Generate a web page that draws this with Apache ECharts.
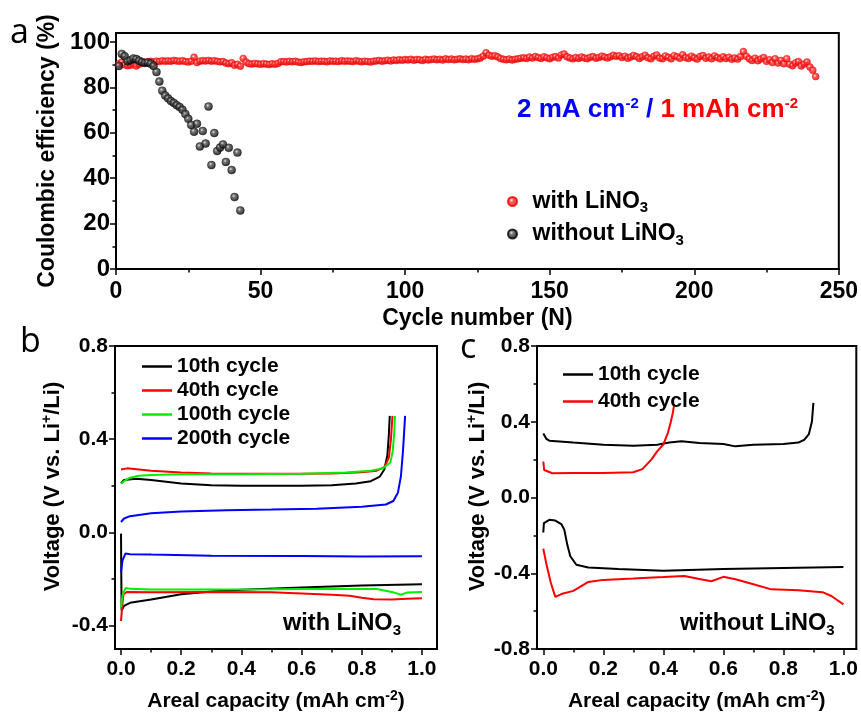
<!DOCTYPE html>
<html>
<head>
<meta charset="utf-8">
<script src="https://cdn.jsdelivr.net/npm/echarts@6/dist/echarts.min.js"></script>
<style>
  html, body { margin: 0; padding: 0; background: #fff; }
  #chart { width: 861px; height: 713px; }
</style>
</head>
<body>
<div id="chart"></div>
<script>
// ---- panel a: coulombic efficiency vs cycle number ----
const ceWith = [
  90.5, 91.2, 90.0, 89.6, 89.8, 90.4, 89.5, 90.2, 90.8, 91.0,
  91.3, 91.5, 91.2, 91.6, 91.4, 91.8, 91.5, 91.7, 91.6, 91.9,
  91.7, 91.5, 91.8, 91.4, 91.2, 91.6, 93.3, 91.0, 91.6, 91.8,
  91.7, 91.9, 91.6, 91.8, 91.5, 91.3, 91.4, 90.8, 90.5, 90.9,
  89.8, 90.2, 89.4, 92.8, 91.2, 90.5, 90.3, 90.6, 90.4, 90.2,
  90.5, 90.3, 90.1, 90.4, 90.2, 90.6, 91.3, 91.4, 91.2, 91.5,
  91.3, 91.5, 91.2, 91.0, 91.3, 91.4, 91.6, 91.5, 91.7, 91.4,
  91.6, 91.5, 91.3, 91.7, 91.5, 91.6, 91.4, 91.8, 91.5, 91.7,
  91.6, 91.4, 91.8, 91.5, 91.3, 91.6, 91.4, 91.2, 91.5, 91.7,
  91.9, 91.6, 91.8, 92.0, 91.7, 92.1, 91.9, 92.2, 92.0, 92.3,
  92.1, 92.4, 92.0, 92.3, 92.2, 91.9, 92.4, 92.1, 92.3, 92.5,
  92.2, 92.4, 92.1, 92.6, 92.3, 92.5, 92.2, 92.4, 92.6, 92.3,
  92.5, 92.2, 92.7, 92.4, 92.6, 93.0, 93.8, 95.3, 94.2, 93.8,
  94.0, 93.5, 92.8, 92.4, 92.2, 92.5, 92.1, 92.4, 92.6, 92.9,
  93.1, 92.8, 93.4, 93.0, 93.6, 93.2, 92.8, 93.5, 93.1, 92.7,
  93.3, 93.6, 93.0, 94.3, 94.8, 93.5, 93.0, 92.6, 93.2, 92.8,
  93.4, 93.0, 92.7, 93.3, 93.6, 92.9, 93.2, 93.8, 93.4, 93.0,
  93.5, 94.2, 93.7, 94.0, 93.2, 93.8, 92.9, 93.4, 94.1, 93.6,
  92.8, 93.5, 94.2, 93.1, 92.6, 93.7, 94.3, 93.0, 92.7, 93.9,
  93.3, 92.6, 94.0, 93.5, 92.9, 94.4, 93.2, 92.8, 93.8, 93.1,
  92.5, 93.6, 94.1, 92.9, 93.4, 92.7, 93.9, 93.2, 92.6, 93.5,
  92.8, 93.3, 92.4, 93.0, 92.5, 93.6, 95.8, 93.8, 92.6, 91.9,
  92.9, 91.8, 92.5, 93.2, 91.5, 92.2, 91.0, 92.6, 90.8, 91.9,
  90.5, 92.7, 90.2, 89.6, 90.8, 91.4, 89.5, 90.3, 91.2, 89.0,
  87.6, 84.8
];
const ceWithout = [
  89.5, 94.8, 93.8, 91.5, 92.0, 92.8, 92.5, 91.8, 91.2, 90.8,
  91.0, 90.5, 89.5, 86.8, 82.6, 78.6, 76.5, 75.2, 74.0, 73.2,
  72.2, 71.4, 70.2, 68.3, 66.2, 63.5, 60.5, 64.0, 54.0, 60.8,
  55.3, 71.6, 45.8, 59.9, 52.0, 53.5, 54.9, 47.2, 53.4, 43.6,
  31.7, 51.3, 25.8
];
const cycleTicks = [0, 50, 100, 150, 200, 250];
const cycleMinor = [25, 75, 125, 175, 225];
const ceTicks = [0, 20, 40, 60, 80, 100];
const ceMinor = [10, 30, 50, 70, 90];

// ---- panel b: voltage profiles with LiNO3 [capacity, voltage] ----
const b10Charge = [[0, 0.21], [0.01, 0.225], [0.05, 0.23], [0.1, 0.225], [0.2, 0.21], [0.3, 0.203], [0.4, 0.2], [0.5, 0.2], [0.6, 0.2], [0.7, 0.203], [0.78, 0.21], [0.83, 0.22], [0.86, 0.24], [0.875, 0.27], [0.885, 0.33], [0.89, 0.42], [0.893, 0.5]];
const b40Charge = [[0, 0.27], [0.02, 0.275], [0.1, 0.265], [0.2, 0.257], [0.3, 0.253], [0.5, 0.252], [0.7, 0.253], [0.8, 0.258], [0.85, 0.265], [0.875, 0.28], [0.89, 0.32], [0.897, 0.4], [0.902, 0.5]];
const b100Charge = [[0, 0.21], [0.01, 0.22], [0.03, 0.235], [0.06, 0.243], [0.1, 0.247], [0.2, 0.25], [0.4, 0.25], [0.6, 0.252], [0.75, 0.257], [0.83, 0.265], [0.87, 0.275], [0.895, 0.3], [0.903, 0.35], [0.908, 0.43], [0.91, 0.5]];
const b200Charge = [[0, 0.045], [0.01, 0.06], [0.03, 0.07], [0.1, 0.082], [0.2, 0.09], [0.35, 0.095], [0.5, 0.098], [0.65, 0.102], [0.8, 0.11], [0.88, 0.12], [0.905, 0.135], [0.92, 0.17], [0.93, 0.24], [0.937, 0.35], [0.944, 0.5]];
const b10Discharge = [[0, -0.005], [0.001, -0.2], [0.002, -0.335], [0.01, -0.315], [0.03, -0.302], [0.1, -0.288], [0.2, -0.265], [0.3, -0.253], [0.4, -0.246], [0.6, -0.236], [0.8, -0.228], [1.0, -0.222]];
const b40Discharge = [[0, -0.38], [0.003, -0.33], [0.008, -0.265], [0.02, -0.255], [0.1, -0.256], [0.3, -0.255], [0.5, -0.257], [0.6, -0.262], [0.7, -0.267], [0.76, -0.272], [0.8, -0.28], [0.84, -0.287], [0.9, -0.288], [0.95, -0.284], [1.0, -0.282]];
const b100Discharge = [[0, -0.32], [0.005, -0.27], [0.015, -0.238], [0.03, -0.242], [0.1, -0.245], [0.3, -0.245], [0.5, -0.244], [0.7, -0.242], [0.85, -0.243], [0.9, -0.255], [0.93, -0.267], [0.95, -0.258], [1.0, -0.255]];
const b200Discharge = [[0, -0.17], [0.005, -0.12], [0.015, -0.09], [0.03, -0.093], [0.1, -0.095], [0.3, -0.1], [0.6, -0.101], [0.8, -0.103], [1.0, -0.102]];

// ---- panel c: voltage profiles without LiNO3 ----
const c10Charge = [[0, 0.338], [0.01, 0.31], [0.02, 0.3], [0.1, 0.29], [0.2, 0.278], [0.3, 0.273], [0.38, 0.278], [0.42, 0.29], [0.46, 0.297], [0.52, 0.288], [0.6, 0.283], [0.64, 0.27], [0.7, 0.278], [0.8, 0.283], [0.85, 0.29], [0.87, 0.305], [0.885, 0.335], [0.895, 0.4], [0.9, 0.5]];
const c40Charge = [[0, 0.19], [0.003, 0.145], [0.03, 0.128], [0.1, 0.13], [0.2, 0.13], [0.3, 0.133], [0.33, 0.15], [0.36, 0.2], [0.38, 0.245], [0.4, 0.28], [0.415, 0.34], [0.425, 0.4], [0.432, 0.45], [0.436, 0.493]];
const c10Discharge = [[0, -0.185], [0.002, -0.135], [0.02, -0.118], [0.04, -0.122], [0.06, -0.14], [0.07, -0.17], [0.08, -0.25], [0.09, -0.31], [0.11, -0.355], [0.15, -0.37], [0.25, -0.378], [0.4, -0.387], [0.6, -0.378], [0.8, -0.372], [1.0, -0.367]];
const c40Discharge = [[0, -0.27], [0.01, -0.35], [0.025, -0.45], [0.04, -0.525], [0.06, -0.51], [0.1, -0.493], [0.15, -0.446], [0.2, -0.435], [0.3, -0.428], [0.4, -0.42], [0.47, -0.414], [0.52, -0.43], [0.56, -0.442], [0.6, -0.419], [0.64, -0.432], [0.7, -0.458], [0.76, -0.485], [0.85, -0.49], [0.93, -0.5], [0.96, -0.52], [1.0, -0.564]];

const capTicks = [0, 0.2, 0.4, 0.6, 0.8, 1.0];
const capMinor = [0.1, 0.3, 0.5, 0.7, 0.9];
const vTicksB = [-0.4, 0, 0.4, 0.8];
const vMinorB = [-0.2, 0.2, 0.6];
const vTicksC = [-0.8, -0.4, 0, 0.4, 0.8];
const vMinorC = [-0.6, -0.2, 0.2, 0.6];

const FONT = '"Liberation Sans", Arial, sans-serif';
const supStyle = {fontSize: 14, fontWeight: 'bold', fontFamily: FONT, color: '#000', padding: [0, 0, 11, 0]};
const subStyle = {fontSize: 15, fontWeight: 'bold', fontFamily: FONT, color: '#000', padding: [13, 0, 0, 0]};

// a value axis drawn as two layers: labelled major ticks and short minor ticks
function axisPair(gridIndex, pos, min, max, majors, minors, fmt, extra, labelSize, labelMargin) {
    const major = Object.assign({
        gridIndex, type: 'value', position: pos, min, max,
        axisLine: {show: true, onZero: false, lineStyle: {color: '#000', width: 2}},
        axisTick: {show: true, inside: false, length: 6, customValues: majors, lineStyle: {color: '#000', width: 1.5}},
        axisLabel: {customValues: majors, formatter: fmt, color: '#000', fontFamily: FONT, fontWeight: 'bold', fontSize: labelSize, margin: labelMargin},
        splitLine: {show: false},
        nameLocation: 'middle',
        nameTextStyle: {color: '#000', fontFamily: FONT, fontWeight: 'bold', fontSize: 21, rich: {sup: supStyle}}
    }, extra);
    const minor = {
        gridIndex, type: 'value', position: pos, min, max,
        axisLine: {show: false, onZero: false},
        axisTick: {show: true, inside: false, length: 3.5, customValues: minors, lineStyle: {color: '#000', width: 1.5}},
        axisLabel: {show: false},
        splitLine: {show: false}
    };
    return [major, minor];
}

const fmt1 = v => v.toFixed(1);
const fmt0 = v => String(Math.round(v));

const redBall = new echarts.graphic.RadialGradient(0.4, 0.38, 0.6, [
    {offset: 0, color: '#ffffff'}, {offset: 0.3, color: '#ff3a3a'}, {offset: 1, color: '#e60000'}
]);
const blackBall = new echarts.graphic.RadialGradient(0.4, 0.38, 0.6, [
    {offset: 0, color: '#e0e0e0'}, {offset: 0.3, color: '#555555'}, {offset: 1, color: '#000000'}
]);

const lineSeries = (name, data, color, ax) => ({
    name, type: 'line', data, xAxisIndex: ax, yAxisIndex: ax,
    showSymbol: false, smooth: false, color,
    lineStyle: {color, width: 2}
});

const chart = echarts.init(document.getElementById('chart'));

const legendText = {color: '#000', fontFamily: FONT, fontWeight: 'bold', fontSize: 21};
const titleA = {color: '#000', fontFamily: FONT, fontWeight: 'bold', fontSize: 23};
const yTitleShift = {padding: [0, 0, 0, 22]};

chart.setOption({
    animation: false,
    backgroundColor: '#fff',
    grid: [
        {left: 116, top: 33, width: 723, height: 236, show: true, borderColor: '#000', borderWidth: 2},
        {left: 115, top: 346, width: 322, height: 304, show: true, borderColor: '#000', borderWidth: 2},
        {left: 537, top: 346, width: 321, height: 304, show: true, borderColor: '#000', borderWidth: 2}
    ],
    xAxis: [
        ...axisPair(0, 'bottom', 0, 250, cycleTicks, cycleMinor, fmt0,
            {name: 'Cycle number (N)', nameGap: 38, nameTextStyle: titleA}, 23, 11),
        ...axisPair(1, 'bottom', -0.02, 1.05, capTicks, capMinor, fmt1,
            {name: 'Areal capacity (mAh cm{sup|-2})', nameGap: 40}, 21, 10),
        ...axisPair(2, 'bottom', -0.021, 1.043, capTicks, capMinor, fmt1,
            {name: 'Areal capacity (mAh cm{sup|-2})', nameGap: 40}, 21, 10)
    ],
    yAxis: [
        ...axisPair(0, 'left', 0, 104, ceTicks, ceMinor, fmt0,
            {name: 'Coulombic efficiency (%)', nameGap: 49, nameTextStyle: titleA}, 24, 6),
        ...axisPair(1, 'left', -0.5, 0.8, vTicksB, vMinorB, fmt1,
            {name: 'Voltage (V vs. Li{sup|+}/Li)', nameGap: 50,
             nameTextStyle: Object.assign({}, legendText, {fontSize: 22, rich: {sup: supStyle}}, yTitleShift)}, 21, 7),
        ...axisPair(2, 'left', -0.8, 0.8, vTicksC, vMinorC, fmt1,
            {name: 'Voltage (V vs. Li{sup|+}/Li)', nameGap: 47,
             nameTextStyle: Object.assign({}, legendText, {fontSize: 22, rich: {sup: supStyle}}, yTitleShift)}, 21, 7)
    ],
    legend: [
        {
            orient: 'vertical', left: 502, top: 185, itemWidth: 30, itemHeight: 9, itemGap: 7,
            icon: 'circle', data: ['with LiNO3', 'without LiNO3'],
            formatter: n => n.replace('LiNO3', 'LiNO{sub|3}'),
            textStyle: Object.assign({rich: {sub: subStyle}}, legendText, {fontSize: 23})
        },
        {
            orient: 'vertical', left: 137, top: 351, itemWidth: 30, itemHeight: 2.5, itemGap: 3,
            icon: 'rect', data: ['10th cycle', '40th cycle', '100th cycle', '200th cycle'],
            textStyle: legendText
        },
        {
            orient: 'vertical', left: 558, top: 359, itemWidth: 30, itemHeight: 2.5, itemGap: 6,
            icon: 'rect', data: ['10th cycle', '40th cycle'],
            textStyle: legendText
        }
    ],
    graphic: [
        {type: 'text', left: 10, top: 16, style: {text: 'a', fontSize: 34, fontFamily: '"Open Sans", sans-serif', fill: '#000'}},
        {type: 'text', left: 20, top: 325, style: {text: 'b', fontSize: 34, fontFamily: '"Open Sans", sans-serif', fill: '#000'}},
        {type: 'text', left: 460, top: 331, style: {text: 'c', fontSize: 34, fontFamily: '"Open Sans", sans-serif', fill: '#000'}},
        {
            type: 'text', left: 517, top: 96,
            style: {
                text: '{b|2 mA cm}{bs|-2}{b| / }{r|1 mAh cm}{rs|-2}',
                rich: {
                    b: {fontSize: 26, fontWeight: 'bold', fontFamily: FONT, fill: '#0000ff'},
                    bs: Object.assign({}, supStyle, {fontSize: 15, padding: [0, 0, 12, 0], fill: '#0000ff', color: '#0000ff'}),
                    r: {fontSize: 26, fontWeight: 'bold', fontFamily: FONT, fill: '#ff0000'},
                    rs: Object.assign({}, supStyle, {fontSize: 15, padding: [0, 0, 12, 0], fill: '#ff0000', color: '#ff0000'})
                }
            }
        },
        {
            type: 'text', left: 283, top: 612,
            style: {text: 'with LiNO{s|3}', fontSize: 23.5, fontWeight: 'bold', fontFamily: FONT, fill: '#000', rich: {s: subStyle}}
        },
        {
            type: 'text', left: 680, top: 612,
            style: {text: 'without LiNO{s|3}', fontSize: 23.5, fontWeight: 'bold', fontFamily: FONT, fill: '#000', rich: {s: subStyle}}
        }
    ],
    series: [
        {
            name: 'with LiNO3', type: 'scatter', xAxisIndex: 0, yAxisIndex: 0,
            data: ceWith.map((v, i) => [i + 1, v]),
            symbolSize: 7, color: '#ff0000',
            itemStyle: {color: redBall, borderColor: '#ee0000', borderWidth: 0.5}
        },
        {
            name: 'without LiNO3', type: 'scatter', xAxisIndex: 0, yAxisIndex: 0,
            data: ceWithout.map((v, i) => [i + 1, v]),
            symbolSize: 8, color: '#000',
            itemStyle: {color: blackBall, borderColor: '#000', borderWidth: 0.5}
        },
        lineSeries('10th cycle', b10Charge, '#000000', 2),
        lineSeries('10th cycle', b10Discharge, '#000000', 2),
        lineSeries('40th cycle', b40Charge, '#ff0000', 2),
        lineSeries('40th cycle', b40Discharge, '#ff0000', 2),
        lineSeries('100th cycle', b100Charge, '#00ee00', 2),
        lineSeries('100th cycle', b100Discharge, '#00ee00', 2),
        lineSeries('200th cycle', b200Charge, '#0000ff', 2),
        lineSeries('200th cycle', b200Discharge, '#0000ff', 2),
        lineSeries('10th cycle', c10Charge, '#000000', 4),
        lineSeries('10th cycle', c10Discharge, '#000000', 4),
        lineSeries('40th cycle', c40Charge, '#ff0000', 4),
        lineSeries('40th cycle', c40Discharge, '#ff0000', 4)
    ]
});
</script>
</body>
</html>
